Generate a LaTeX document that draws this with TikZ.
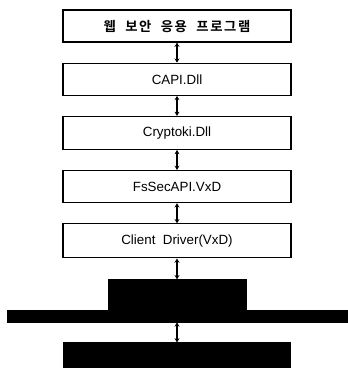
\documentclass[tikz,border=0pt]{standalone}
\usepackage{fontspec}
\setmainfont{Liberation Sans}
\newfontfamily\korfont{Noto Sans CJK KR Bold}[LetterSpace=12]
\usetikzlibrary{arrows.meta, positioning}

\begin{document}
\begin{tikzpicture}[
    node distance=0.5cm,
    box/.style={rectangle, draw=black, line width=0.9pt, fill=white, minimum width=5.7cm,
                minimum height=0.8cm, inner sep=0pt, align=center,
                font=\fontsize{9.5}{11}\selectfont},
    blk/.style={rectangle, draw=black, fill=black, inner sep=0pt},
    arr/.style={draw=black, line width=0.8pt, {Stealth[length=3pt,width=3.5pt]}-{Stealth[length=3pt,width=3.5pt]}}
  ]
  \useasboundingbox (0,0) rectangle (8.675,-9.2);

  % Nodes
  \node[box] (app) at (4.425,-0.65) {\korfont\fontsize{9.5}{11}\selectfont 웹\hspace{0.7em}보안\hspace{0.7em}응용\hspace{0.7em}프로그램};
  \node[box, below=of app] (capi) {CAPI.Dll};
  \node[box, below=of capi, minimum height=0.82cm] (crypt) {Cryptoki.Dll};
  \node[box, below=of crypt] (fssec) {FsSecAPI.VxD};
  \node[box, below=of fssec, minimum height=0.85cm] (client) {Client\ \ Driver(VxD)};

  % hardware blocks
  \node[blk, below=0.52cm of client, minimum width=3.45cm, minimum height=0.75cm] (card) {};
  \node[blk, below=0cm of card, minimum width=8.5cm, minimum height=0.3cm] (bus) {};
  \node[blk, below=0.5cm of bus, minimum width=5.68cm, minimum height=0.83cm] (dev) {};

  % Arrows
  \draw[arr] (app) -- (capi);
  \draw[arr] (capi) -- (crypt);
  \draw[arr] (crypt) -- (fssec);
  \draw[arr] (fssec) -- (client);
  \draw[arr] (client) -- (card);
  \draw[arr] (bus) -- (dev);
\end{tikzpicture}
\end{document}
